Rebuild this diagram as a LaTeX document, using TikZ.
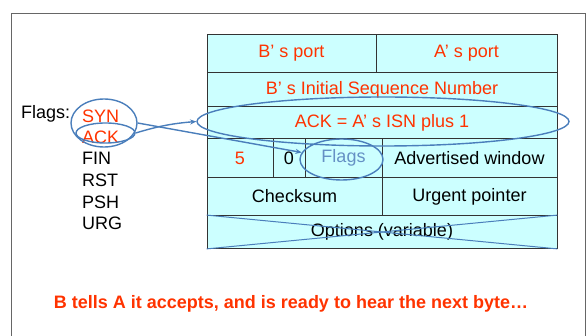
\documentclass[tikz,border=0pt]{standalone}
\usepackage{fontspec}
\setmainfont{Liberation Sans}
\usepackage{xcolor}
\usetikzlibrary{arrows.meta,positioning,shapes.geometric}

\definecolor{tcpred}{HTML}{FF3300}
\definecolor{tcpblue}{HTML}{4A7EBB}
\definecolor{tcpcell}{HTML}{CCFFFF}

\begin{document}
\begin{tikzpicture}[
        x=1pt, y=-1pt,
        every node/.style={align=center, inner sep=0pt},
        cell/.style  ={rectangle, draw=black!80, line width=0.8pt, fill=tcpcell,
                       font=\fontsize{18}{21}\selectfont},
        field/.style ={cell, text=tcpred},
        flagtxt/.style={anchor=base west, font=\fontsize{18}{21}\selectfont},
        ring/.style  ={ellipse, draw=tcpblue, line width=1.4pt},
        flow/.style  ={-{Stealth[length=2.2mm,width=1.8mm]},
                       line width=1.4pt, color=tcpblue},
    ]
        \useasboundingbox (0,0) rectangle (588,336);

        % ===================== marco de la diapositiva =====================
        \draw[black!60, line width=0.8pt] (11,336) -- (11,13) -- (585,13) -- (585,336);

        % ===================== cabecera TCP =====================
        \node[field, minimum width=169, minimum height=38] (sp)  at (291.5, 53.5) {B’ s port};
        \node[field, minimum width=181, minimum height=38] (dp)  at (466.5, 53.5) {A’ s port};
        \node[field, minimum width=350, minimum height=34] (isn) at (382, 89.5)   {B’ s Initial Sequence Number};
        \node[field, minimum width=350, minimum height=32] (ack) at (382, 122.5)  {ACK = A’ s ISN plus 1};
        \node[field, minimum width=66,  minimum height=39] (hl)  at (240, 158)    {5};
        \node[cell,  minimum width=32,  minimum height=39] (rsv) at (289, 158)    {0};
        \node[cell,  minimum width=77,  minimum height=39,
              text=tcpblue!85]                            (fl)  at (343.5, 158)  {Flags};
        \node[cell,  minimum width=175, minimum height=39] (win) at (469.5, 158)  {Advertised window};
        \node[cell,  minimum width=175, minimum height=38] (cks) at (294.5, 196.5) {Checksum};
        \node[cell,  minimum width=175, minimum height=38] (urg) at (469.5, 196.5) {Urgent pointer};
        \node[cell,  minimum width=350, minimum height=33] (opt) at (382, 232)    {Options (variable)};

        % opciones tachadas
        \draw[tcpblue, line width=1pt] (opt.north west) -- (opt.south east);
        \draw[tcpblue, line width=1pt] (opt.south west) -- (opt.north east);

        % ===================== lista de flags =====================
        \node[flagtxt]              (lbl) at (21, 119)  {Flags:};
        \node[flagtxt, text=tcpred] (syn) at (82, 123)  {SYN};
        \node[flagtxt, text=tcpred] (ak)  at (82, 144)  {ACK};
        \node[flagtxt]              (fin) at (82, 165)  {FIN};
        \node[flagtxt]              (rst) at (82, 187)  {RST};
        \node[flagtxt]              (psh) at (82, 209)  {PSH};
        \node[flagtxt]              (ug)  at (82, 230)  {URG};

        % ===================== elipses =====================
        \node[ring, minimum width=66,  minimum height=48] (synring)  at (104, 123)   {};
        \node[ring, minimum width=59,  minimum height=20] (ackring)  at (105.5, 133) {};
        \node[ring, minimum width=372, minimum height=49] (bigring)  at (383, 121.5) {};
        \node[ring, minimum width=83,  minimum height=41] (flagring) at (341.5, 159.5) {};

        % ===================== flechas =====================
        \draw[flow] (ackring.east) to[bend left=6] (bigring.west);
        \draw[flow] (synring.east) -- (flagring.170);

        % ===================== mensaje =====================
        \node[anchor=base, text=tcpred, font=\fontsize{18}{21}\selectfont\bfseries]
            (msg) at (291, 308) {B tells A it accepts, and is ready to hear the next byte…};
    \end{tikzpicture}
\end{document}
